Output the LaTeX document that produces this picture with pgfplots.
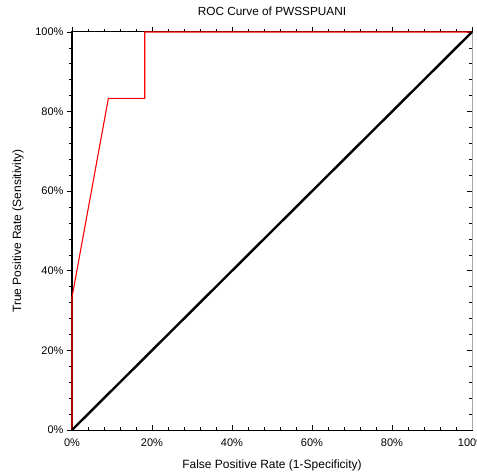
\documentclass[border=0pt]{standalone}
\usepackage{pgfplots}
\pgfplotsset{compat=1.18}
\usepackage{fontspec}
\setmainfont{Liberation Sans}
\begin{document}
\begin{tikzpicture}
\pgfplotsset{
  common/.style={
    scale only axis, width=400bp, height=398bp,
    xmin=0, xmax=1, ymin=0, ymax=1,
    xtick={0,0.2,0.4,0.6,0.8,1}, ytick={0,0.2,0.4,0.6,0.8,1},
    minor tick num=4,
    major tick length=5bp, minor tick length=3bp,
    tick style={black, line width=0.7bp},
    axis line style={black, line width=1bp},
    /pgf/number format/assume math mode=true,
    ticklabel style={font=\fontsize{11bp}{13bp}\selectfont},
    label style={font=\fontsize{12bp}{14bp}\selectfont},
    clip=false,
  }
}
% bottom + right ticks, pointing inward
\begin{axis}[common, tick align=inside,
  xtick pos=left, ytick pos=right,
  xticklabels={0\%,20\%,40\%,60\%,80\%,100\%},
  yticklabels={},
  xticklabel style={yshift=-5bp},
]
\end{axis}
% top + left ticks, pointing outward
\begin{axis}[common, tick align=outside,
  xtick pos=right, ytick pos=left,
  xticklabels={},
  yticklabels={0\%,20\%,40\%,60\%,80\%,100\%},
  title={ROC Curve of PWSSPUANI},
  title style={font=\fontsize{11.8bp}{14bp}\selectfont, at={(axis description cs:0.5,1)}, anchor=south, yshift=7bp},
  xlabel={False Positive Rate (1-Specificity)},
  ylabel={True Positive Rate (Sensitivity)},
  xlabel style={at={(axis description cs:0.5,0)}, anchor=center, yshift=-35bp},
  ylabel style={at={(axis description cs:-0.135,0.5)}, anchor=center},
]
\draw[gray!70, line width=1bp] (rel axis cs:1,0) -- (rel axis cs:1,1);
\addplot[red, line width=1.1bp, line join=miter] coordinates {
  (0,0) (0,0.3333) (0.0909,0.8333) (0.1818,0.8333) (0.1818,1) (1,1)
};
\addplot[black, line width=2.4bp] coordinates {(0,0) (1,1)};
\coordinate (SW) at (rel axis cs:0,0);
\coordinate (NE) at (rel axis cs:1,1);
\end{axis}
\pgfresetboundingbox
\path ([xshift=-72bp,yshift=-46bp]SW) rectangle ([xshift=5bp,yshift=32bp]NE);
\end{tikzpicture}
\end{document}
